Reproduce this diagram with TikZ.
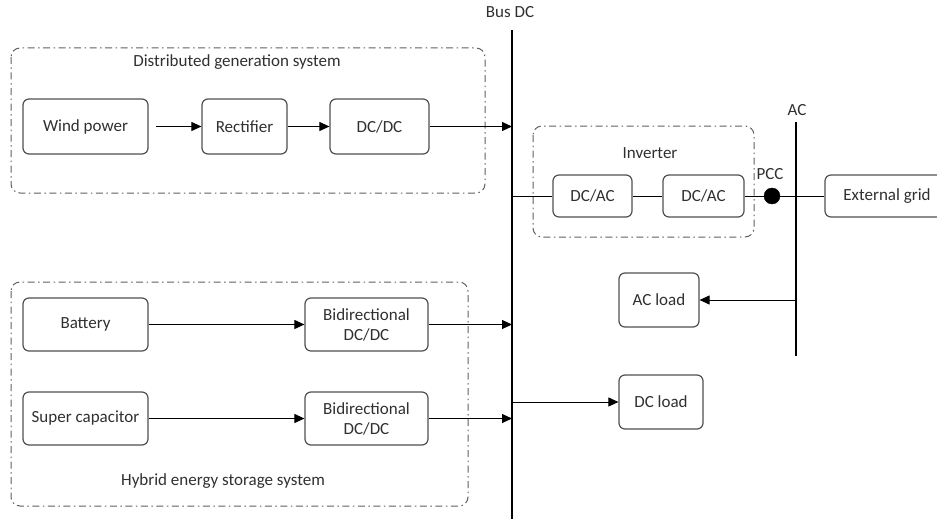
\documentclass[tikz,border=0pt]{standalone}
\usepackage{fontspec}
\setmainfont{Carlito}
\usetikzlibrary{arrows.meta}
\definecolor{txt}{HTML}{303030}
\definecolor{boxc}{HTML}{505050}
\definecolor{dashc}{HTML}{606060}
\tikzset{
  x=1pt, y=-1pt,
  every node/.style={font=\fontsize{17}{20}\selectfont, text=txt},
  blk/.style={draw=boxc, line width=1.2pt, rounded corners=6pt, align=center, inner sep=0pt, fill=white},
  grp/.style={draw=dashc, line width=1pt, rounded corners=9pt, dash pattern=on 7pt off 3.5pt on 1.5pt off 3.5pt},
  conn/.style={draw=black, line width=1pt},
  arr/.style={conn, -{Triangle[length=10pt,width=9pt]}},
  lbl/.style={inner sep=0pt}
}
\begin{document}
\begin{tikzpicture}
\useasboundingbox (0,0) rectangle (937,519);
% group frames
\draw[grp] (11,48) rectangle (485,193);
\draw[grp] (533,126) rectangle (754,237);
\draw[grp] (11,282) rectangle (468,506);
\node[lbl] (dgs) at (237,62) {Distributed generation system};
\node[lbl] (inv) at (650,153) {Inverter};
\node[lbl] (hess) at (223,481) {Hybrid energy storage system};
% buses
\coordinate (bustop) at (512,30);
\coordinate (busbot) at (512,519);
\draw[conn, line width=1.3pt] (bustop) -- (busbot);
\node[lbl] (buslbl) at (510,12) {Bus DC};
\coordinate (actop) at (796,122);
\coordinate (acbot) at (796,356);
\draw[conn, line width=1.3pt] (actop) -- (acbot);
\node[lbl] (aclbl) at (797,110) {AC};
% blocks
\node[blk, minimum width=125pt, minimum height=55pt] (wind) at (85.5,126.5) {Wind power};
\node[blk, minimum width=85pt, minimum height=55pt] (rect) at (244.5,126.5) {Rectifier};
\node[blk, minimum width=99pt, minimum height=55pt] (dcdc) at (379.5,126.5) {DC/DC};
\node[blk, minimum width=79pt, minimum height=42pt] (dcac1) at (592.5,196) {DC/AC};
\node[blk, minimum width=81pt, minimum height=42pt] (dcac2) at (703.5,196) {DC/AC};
\node[blk, minimum width=124pt, minimum height=42pt] (grid) at (887,196) {External grid};
\node[blk, minimum width=80pt, minimum height=54pt] (acload) at (659,300) {AC load};
\node[blk, minimum width=84pt, minimum height=54pt] (dcload) at (661,402) {DC load};
\node[blk, minimum width=125pt, minimum height=53pt] (bat) at (85.5,324.5) {Battery};
\node[blk, minimum width=123pt, minimum height=53pt] (bid1) at (366.5,324.5) {Bidirectional\\DC/DC};
\node[blk, minimum width=125pt, minimum height=53pt] (sc) at (85.5,418.5) {Super capacitor};
\node[blk, minimum width=123pt, minimum height=53pt] (bid2) at (366.5,418.5) {Bidirectional\\DC/DC};
% PCC
\node[circle, fill=black, draw=black, minimum size=16pt, inner sep=0pt] (pcc) at (772,196) {};
\node[lbl] (pcclbl) at (770,174) {PCC};
% connectors
\draw[arr] ([xshift=7pt]wind.east) -- (rect.west);
\draw[arr] (rect.east) -- (dcdc.west);
\draw[arr] (dcdc.east) -- (dcdc.east -| bustop);
\draw[conn] (dcac1.west -| bustop) -- (dcac1.west);
\draw[conn] (dcac1.east) -- (dcac2.west);
\draw[conn] (dcac2.east) -- (pcc.west);
\draw[conn] (pcc.east) -- (grid.west);
\draw[arr] (acload.east -| actop) -- (acload.east);
\draw[arr] (dcload.west -| bustop) -- (dcload.west);
\draw[arr] (bat.east) -- (bid1.west);
\draw[arr] (bid1.east) -- (bid1.east -| bustop);
\draw[arr] (sc.east) -- (bid2.west);
\draw[arr] (bid2.east) -- (bid2.east -| bustop);
\end{tikzpicture}
\end{document}
